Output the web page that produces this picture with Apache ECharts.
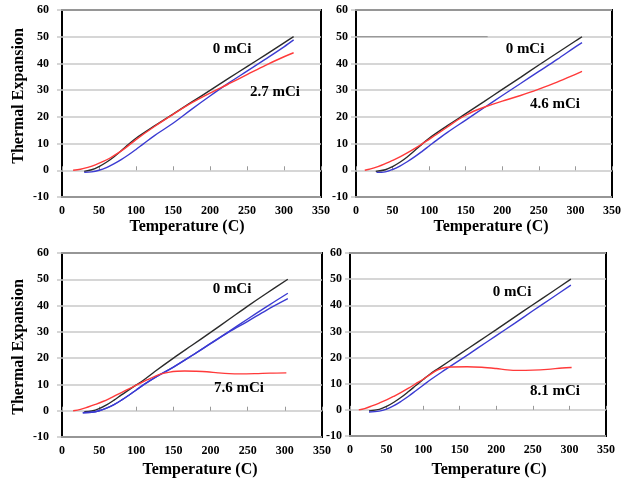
<!DOCTYPE html>
<html>
<head>
<meta charset="utf-8">
<script src="https://cdn.jsdelivr.net/npm/echarts@6/dist/echarts.min.js"></script>
<style>html,body{margin:0;padding:0;background:#fff;}#c{width:626px;height:482px;}</style>
</head>
<body>
<div id="c"></div>
<script>
// ---- tick labels / axes ----
var xTicks = [0, 50, 100, 150, 200, 250, 300, 350];
var yTicks = [-10, 0, 10, 20, 30, 40, 50, 60];
var dosesLabels = ['2.7 mCi', '4.6 mCi', '7.6 mCi', '8.1 mCi'];
var refLabel = '0 mCi';
var xTitle = 'Temperature (C)';
var yTitle = 'Thermal Expansion';

// ---- panel 1 (2.7 mCi) [temperature, expansion] ----
var p1Black = [[30,-0.4],[40,0.2],[50,1.4],[60,3.0],[70,5.0],[80,7.3],[90,9.7],[100,12.0],[125,16.6],[150,21.0],[175,25.5],[200,29.9],[225,34.4],[250,38.8],[275,43.2],[300,47.7],[313,50.0]];
var p1Blue  = [[30,-0.8],[40,-0.6],[50,0.0],[60,1.0],[70,2.4],[80,4.0],[90,5.8],[100,7.8],[110,9.9],[125,13.0],[150,17.6],[175,22.8],[200,27.8],[225,32.6],[250,37.1],[275,41.6],[300,46.2],[313,48.8]];
var p1Red   = [[15,0.0],[25,0.4],[35,1.1],[45,2.0],[55,3.2],[65,4.6],[75,6.3],[85,8.2],[100,11.5],[125,16.4],[150,20.9],[175,25.2],[200,28.9],[225,32.3],[250,35.8],[275,39.3],[300,42.5],[313,44.0]];

// ---- panel 2 (4.6 mCi) ----
var p2Black = [[27,-0.4],[40,0.2],[50,1.4],[60,3.0],[70,5.0],[80,7.3],[90,9.7],[100,12.0],[125,16.7],[150,21.2],[175,25.7],[200,30.3],[225,34.8],[250,39.4],[275,43.9],[300,48.4],[309,50.0]];
var p2Blue  = [[28,-0.8],[40,-0.6],[50,0.3],[60,1.6],[70,3.2],[80,5.0],[90,7.0],[100,9.1],[110,11.2],[125,14.2],[150,18.8],[175,23.4],[200,28.0],[225,32.5],[250,37.0],[275,41.5],[300,46.2],[309,47.8]];
var p2Red   = [[12,0.0],[20,0.5],[30,1.4],[40,2.5],[50,3.7],[60,5.0],[70,6.5],[80,8.1],[90,9.8],[100,11.6],[110,13.4],[125,16.2],[140,19.0],[150,20.6],[160,22.0],[175,23.6],[200,25.9],[225,28.0],[250,30.4],[275,33.0],[300,35.9],[309,37.0]];
var p2Shade = [[0,50],[180,50]];

// ---- panel 3 (7.6 mCi) ----
var p3Black = [[30,-0.4],[40,-0.1],[50,0.8],[60,2.2],[70,4.0],[80,6.0],[90,7.9],[100,9.8],[110,11.7],[125,14.9],[150,20.0],[175,24.9],[200,29.8],[225,34.8],[250,39.8],[275,44.6],[304,50.0]];
var p3BlueA = [[28,-0.8],[40,-0.6],[50,0.0],[60,1.0],[70,2.3],[80,4.0],[90,5.9],[100,7.9],[110,9.9],[125,12.6],[150,16.6],[175,21.0],[200,25.6],[225,30.2],[250,34.9],[275,39.5],[304,44.7]];
var p3BlueB = [[28,-0.8],[40,-0.6],[50,0.0],[60,1.0],[70,2.3],[80,4.0],[90,5.9],[100,7.9],[110,9.9],[125,12.6],[150,16.6],[175,21.0],[200,25.5],[225,30.0],[250,34.0],[275,38.2],[304,42.6]];
var p3Red   = [[15,0.0],[25,0.5],[35,1.4],[45,2.4],[55,3.5],[65,4.8],[75,6.2],[85,7.6],[95,9.0],[105,10.4],[115,11.8],[125,13.1],[135,14.1],[145,14.7],[155,15.0],[165,15.1],[180,15.0],[195,14.8],[210,14.4],[225,14.1],[240,14.0],[260,14.1],[280,14.3],[302,14.4]];

// ---- panel 4 (8.1 mCi) ----
var p4Black = [[26,-0.4],[40,0.2],[50,1.3],[60,2.9],[70,4.8],[80,7.0],[90,9.3],[100,11.6],[110,13.8],[119,15.5],[150,21.3],[175,26.0],[200,30.7],[225,35.5],[250,40.2],[275,44.9],[302,50.0]];
var p4Blue  = [[26,-0.8],[40,-0.5],[50,0.3],[60,1.6],[70,3.3],[80,5.2],[90,7.3],[100,9.4],[110,11.5],[125,14.4],[150,19.0],[175,23.7],[200,28.4],[225,33.1],[250,37.9],[275,42.6],[302,47.7]];
var p4Red   = [[12,0.0],[20,0.5],[30,1.5],[40,2.6],[50,3.8],[60,5.2],[70,6.7],[80,8.3],[90,10.0],[100,11.7],[110,13.6],[120,15.3],[130,16.2],[140,16.4],[160,16.5],[180,16.3],[200,15.8],[215,15.3],[230,15.1],[250,15.2],[270,15.5],[290,16.0],[303,16.2]];

var FONT = '"Liberation Serif", "DejaVu Serif", "Times New Roman", serif';
var C_BLACK = '#2b2b2b', C_BLUE = '#3b3bd2', C_RED = '#ff3a3a';

var grids = [
  {left: 62, top: 10, width: 259, height: 187},
  {left: 356, top: 10, width: 256, height: 187},
  {left: 62, top: 253, width: 260, height: 184},
  {left: 350, top: 253, width: 256, height: 183}
];
var yLabelMargins = [13, 8, 13, 8];

var chart = echarts.init(document.getElementById('c'));

var xAxes = [], yAxes = [];
grids.forEach(function (g, i) {
  g.show = true; g.borderColor = '#000'; g.borderWidth = 2; g.backgroundColor = '#fff';
  xAxes.push({
    type: 'value', gridIndex: i, min: xTicks[0], max: xTicks[xTicks.length - 1], interval: 50,
    axisLine: {show: false}, splitLine: {show: false},
    axisTick: {show: true, inside: true, length: 4, lineStyle: {color: '#999', width: 1}},
    axisLabel: {margin: 8, fontFamily: FONT, fontWeight: 'bold', fontSize: 12, color: '#000'}
  });
  yAxes.push({
    type: 'value', gridIndex: i, min: yTicks[0], max: yTicks[yTicks.length - 1], interval: 10,
    axisLine: {show: false},
    axisTick: {show: true, length: 5, lineStyle: {color: '#c8c8c8', width: 1.5}},
    splitLine: {show: true, lineStyle: {color: '#c8c8c8', width: 1.5}},
    axisLabel: {margin: yLabelMargins[i], fontFamily: FONT, fontWeight: 'bold', fontSize: 12, color: '#000'}
  });
});

function line(data, color, idx) {
  return {type: 'line', xAxisIndex: idx, yAxisIndex: idx, data: data, smooth: 0.35,
    showSymbol: false, symbol: 'none', lineStyle: {color: color, width: 1.4}, z: 3};
}

var series = [
  line(p1Black, C_BLACK, 0), line(p1Blue, C_BLUE, 0), line(p1Red, C_RED, 0),
  {type: 'line', xAxisIndex: 1, yAxisIndex: 1, data: p2Shade, showSymbol: false, symbol: 'none',
    lineStyle: {color: '#999', width: 1.2}, z: 2},
  line(p2Black, C_BLACK, 1), line(p2Blue, C_BLUE, 1), line(p2Red, C_RED, 1),
  line(p3Black, C_BLACK, 2), line(p3BlueA, C_BLUE, 2), line(p3BlueB, C_BLUE, 2), line(p3Red, C_RED, 2),
  line(p4Black, C_BLACK, 3), line(p4Blue, C_BLUE, 3), line(p4Red, C_RED, 3)
];

function txt(x, y, s, size, rot) {
  return {type: 'text', x: x, y: y, rotation: rot || 0, z: 10,
    style: {text: s, fontFamily: FONT, fontWeight: 'bold', fontSize: size, fill: '#000',
      align: 'center', verticalAlign: 'middle'}};
}

var graphics = [
  txt(232, 49, refLabel, 15), txt(275, 92, dosesLabels[0], 15),
  txt(525, 49, refLabel, 15), txt(555, 104, dosesLabels[1], 15),
  txt(232, 289, refLabel, 15), txt(239, 388, dosesLabels[2], 15),
  txt(512, 292, refLabel, 15), txt(555, 391, dosesLabels[3], 15),
  txt(187, 227, xTitle, 16), txt(491, 227, xTitle, 16),
  txt(200, 470, xTitle, 16), txt(489, 470, xTitle, 16),
  txt(19, 96, yTitle, 16, Math.PI / 2), txt(19, 347, yTitle, 16, Math.PI / 2)
];

chart.setOption({
  backgroundColor: '#fff',
  animation: false,
  grid: grids,
  xAxis: xAxes,
  yAxis: yAxes,
  series: series,
  graphic: graphics
});
</script>
</body>
</html>
